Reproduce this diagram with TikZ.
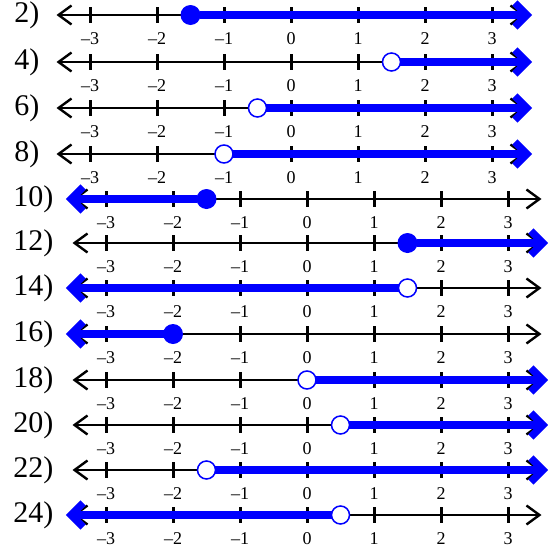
\documentclass[tikz,border=0pt]{standalone}
\usepackage{fontspec}
\setmainfont{Liberation Serif}
\usetikzlibrary{arrows.meta}

\begin{document}
\begin{tikzpicture}[x=1pt, y=-1pt,
    axis/.style={line width=2.4pt, {Straight Barb[length=13pt, width=19pt]}-{Straight Barb[length=13pt, width=19pt]}},
    axistick/.style={line width=3pt},
    ray/.style={blue, line width=7.5pt, shorten <=-1pt, -{Straight Barb[length=12pt, width=24pt]}},
    filldot/.style={circle, fill=blue, inner sep=0pt, minimum size=20pt},
    opendot/.style={circle, draw=blue, fill=white, line width=1.5pt, inner sep=0pt, minimum size=18pt},
    num/.style={font=\fontsize{18}{18}\selectfont},
    lab/.style={font=\fontsize{30}{30}\selectfont, anchor=east}]
    \useasboundingbox (0,0) rectangle (548,549);

    % Draw number lines
    \foreach \n/\y/\z/\lx/\p/\e/\dot in {2/15/291/43/-1.5/3.6/filldot,
        4/62/291/43/1.5/3.6/opendot, 6/108/291/43/-0.5/3.6/opendot,
        8/154/291/43/-1/3.6/opendot, 10/199/307/57/-1.5/-3.6/filldot,
        12/243/307/57/1.5/3.6/filldot, 14/288/307/57/1.5/-3.6/opendot,
        16/334/307/57/-2/-3.6/filldot, 18/380/307/57/0/3.6/opendot,
        20/425/307/57/0.5/3.6/opendot, 22/470/307/57/-1.5/3.6/opendot,
        24/515/307/57/0.5/-3.6/opendot} {
        \node[lab] (lab\n) at (\lx,\y) {\n)};
        \coordinate (left\n) at ({\z-67*3.5},\y);
        \coordinate (right\n) at ({\z+67*3.5},\y);
        \draw[axis] (left\n) -- (right\n);

        % Ticks and numbers
        \foreach \k/\t [count=\i] in {-3/–3, -2/–2, -1/–1, 0/0, 1/1, 2/2, 3/3} {
            \draw[axistick] ({\z+67*\k},{\y-8}) -- ({\z+67*\k},{\y+8});
            \node[num] (num\n-\i) at ({\z+67*\k},{\y+24}) {\t};
        }

        % Solution
        \node[\dot] (pt\n) at ({\z+67*\p},\y) {};
        \coordinate (end\n) at ({\z+67*\e},\y);
        \draw[ray] (pt\n) -- (end\n);
    }
\end{tikzpicture}
\end{document}
